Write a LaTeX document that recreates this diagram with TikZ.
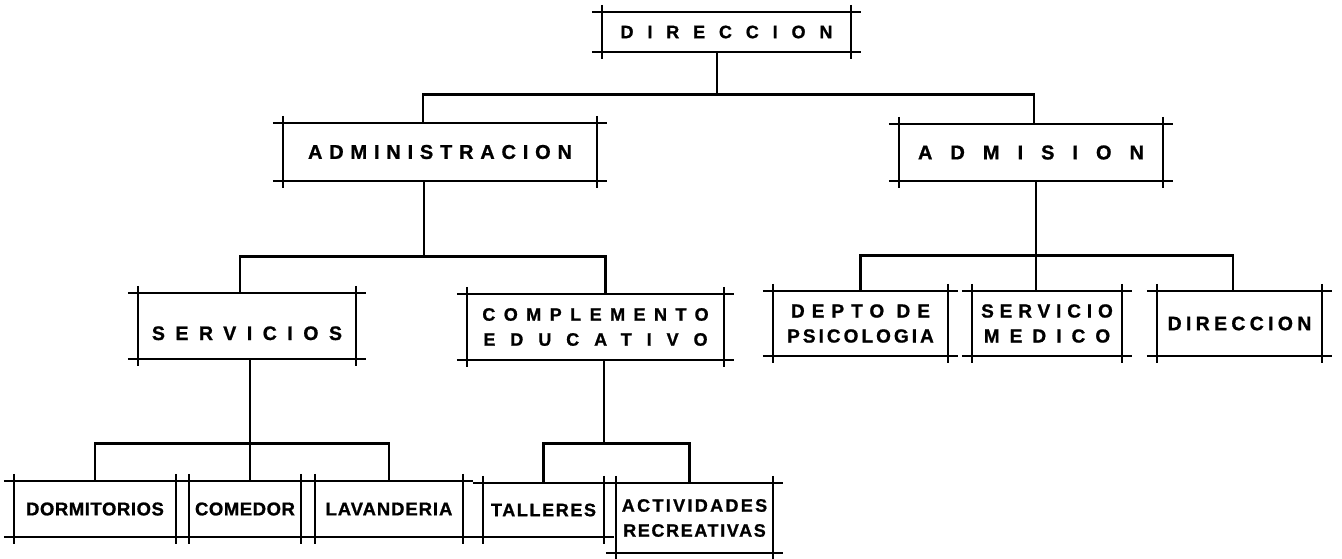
\documentclass[tikz,border=0pt]{standalone}
\usepackage{fontspec}
\newfontfamily\lettering{Liberation Sans}
\newcommand{\lsp}[3]{{\fontsize{#1}{25}\selectfont\addfontfeature{LetterSpace=#2}#3}}
\newcommand{\boxlines}[1]{%
  \draw[boxline] ([xshift=-10pt]#1.north west) -- ([xshift=10pt]#1.north east);
  \draw[boxline] ([xshift=-10pt]#1.south west) -- ([xshift=10pt]#1.south east);
  \draw[boxline] ([yshift=7pt]#1.north west) -- ([yshift=-7pt]#1.south west);
  \draw[boxline] ([yshift=7pt]#1.north east) -- ([yshift=-7pt]#1.south east);}

\tikzstyle{office}=[inner sep=0pt, align=center, font=\lettering\bfseries\addfontfeature{FakeBold=1}\fontsize{18}{25}\selectfont]
\tikzstyle{boxline}=[draw, line width=1.6pt]
\tikzstyle{edge}=[draw, line width=2.8pt]

\begin{document}
\begin{tikzpicture}[x=1pt,y=-1pt]
\useasboundingbox (0,0) rectangle (1342,558);

% top
\node[office, minimum width=249pt, minimum height=40pt] (dir) at (726.5,32) {\lsp{18}{77}{DIRECCION}};
\boxlines{dir}

% second level
\node[office, minimum width=314pt, minimum height=58pt] (adm) at (440,152) {\lsp{20}{34}{ADMINISTRACION}};
\boxlines{adm}
\node[office, minimum width=264pt, minimum height=57pt] (adn) at (1031,152.5) {\lsp{20}{90}{ADMISION}};
\boxlines{adn}

\draw[edge] ([xshift=-9.5pt]dir.south) -- ++(0,42) coordinate (top);
\draw[edge] ([xshift=-17pt]adm.north) |- (top) -| ([xshift=3pt]adn.north);

% under administracion
\node[office, minimum width=218pt, minimum height=66pt, text height=28pt, text depth=0pt] (serv) at (247,326) {\lsp{19.5}{54}{SERVICIOS}};
\boxlines{serv}
\node[office, minimum width=257pt, minimum height=66pt] (comp) at (595.5,327) {\lsp{18}{47}{COMPLEMENTO}\\\lsp{18}{83}{EDUCATIVO}};
\boxlines{comp}

\draw[edge] ([xshift=-16pt]adm.south) -- ++(0,75) coordinate (mid1);
\draw[edge] ([xshift=-7pt]serv.north) |- (mid1) -| ([xshift=10pt]comp.north);

% under admision
\node[office, minimum width=175pt, minimum height=65pt] (depto) at (860.5,323.5) {\lsp{19}{37}{DEPTO DE}\\\lsp{19}{16}{PSICOLOGIA}};
\boxlines{depto}
\node[office, minimum width=150pt, minimum height=65pt] (smed) at (1047,323.5) {\lsp{19}{31}{SERVICIO}\\\lsp{19}{53}{MEDICO}};
\boxlines{smed}
\node[office, minimum width=165pt, minimum height=65pt] (dir2) at (1239.5,323.5) {\lsp{19.5}{22}{DIRECCION}};
\boxlines{dir2}

\draw[edge] ([xshift=5pt]adn.south) -- ++(0,74) coordinate (mid2);
\draw[edge] (depto.north) |- (mid2) -| ([xshift=-6.5pt]dir2.north);
\draw[edge] (mid2) -- (mid2 |- smed.north);

% under servicios
\node[office, minimum width=162pt, minimum height=56pt] (dorm) at (95,509) {\lsp{18.5}{3}{DORMITORIOS}};
\boxlines{dorm}
\node[office, minimum width=112pt, minimum height=56pt] (come) at (245,509) {\lsp{18.5}{3}{COMEDOR}};
\boxlines{come}
\node[office, minimum width=148pt, minimum height=56pt] (lava) at (389,509) {\lsp{18.5}{5}{LAVANDERIA}};
\boxlines{lava}

\draw[edge] ([xshift=3pt]serv.south) -- ++(0,84) coordinate (low1);
\draw[edge] (dorm.north) |- (low1) -| (lava.north);
\draw[edge] (low1) -- (low1 |- come.north);

% under complemento educativo
\node[office, minimum width=121pt, minimum height=54pt] (tall) at (543.5,510) {\lsp{18}{9}{TALLERES}};
\boxlines{tall}
\node[office, minimum width=157pt, minimum height=70pt] (acti) at (694.5,518) {\lsp{18}{13}{ACTIVIDADES}\\\lsp{18}{9}{RECREATIVAS}};
\boxlines{acti}

\draw[edge] ([xshift=8.5pt]comp.south) -- ++(0,83) coordinate (low2);
\draw[edge] (tall.north) |- (low2) -| ([xshift=-5pt]acti.north);
\end{tikzpicture}
\end{document}
